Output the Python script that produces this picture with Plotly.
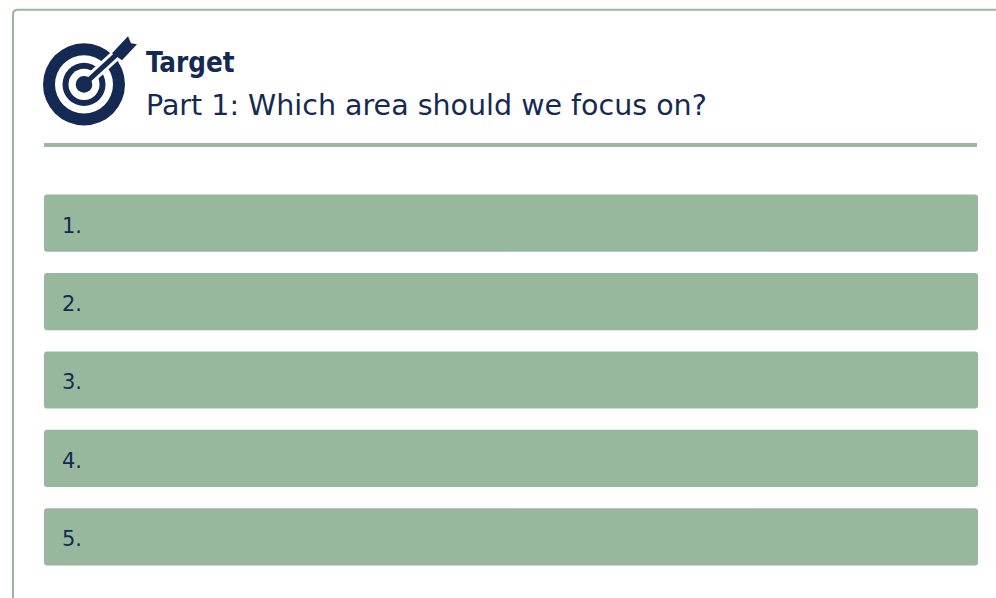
import math
import plotly.graph_objects as go

W, H = 996, 598
labels = ["1.", "2.", "3.", "4.", "5."]
left_half = [-0.5, -0.5, -0.5, -0.5, -0.5]
right_half = [0.5, 0.5, 0.5, 0.5, 0.5]
title = "Target"
subtitle = "Part 1: Which area should we focus on?"
GREEN = "#98b89e"
NAVY = "#152a52"
FONT = "DejaVu Sans"

L, R, T, B = 44, 18, 184.4, 22.4

def px(x):
    return (x - L) / (W - L - R)

def py(y):
    return 1 - (y - T) / (H - T - B)

def pt(x, y):
    return f"{px(x):.5f},{py(y):.5f}"

def circle(cx, cy, r, color):
    return dict(type="circle", xref="paper", yref="paper", x0=px(cx - r), x1=px(cx + r),
                y0=py(cy + r), y1=py(cy - r), fillcolor=color, line=dict(width=0), layer="above")

def poly(points, color):
    return dict(type="path", xref="paper", yref="paper",
                path="M " + " L ".join(pt(*p) for p in points) + " Z",
                fillcolor=color, line=dict(width=0), layer="above")

cx, cy = 84, 85
ux, uy = math.cos(math.radians(42.5)), -math.sin(math.radians(42.5))

def along(d, off=0):
    return (cx + ux * d - uy * off, cy + uy * d + ux * off)

shapes = [
    # card outline
    dict(type="path", xref="paper", yref="paper",
         path=f"M {pt(13, 604)} L {pt(13, 15)} Q {pt(13, 10.5)} {pt(18, 10.5)} L {pt(1002, 10.5)}",
         line=dict(color=GREEN, width=2), layer="below"),
    # header rule
    dict(type="rect", xref="paper", yref="paper", x0=px(44), x1=px(977), y0=py(147.5), y1=py(143.5),
         fillcolor=GREEN, line=dict(width=0), layer="below"),
    circle(cx, cy, 41, NAVY),
    circle(cx, cy, 29, "white"),
    circle(cx, cy, 21.5, NAVY),
    circle(cx, cy, 15.5, "white"),
    # white gap cut through the rings
    poly([along(9, -5.5), along(46, -5.5), along(46, 5.5), along(9, 5.5)], "white"),
    circle(cx, cy, 8.3, NAVY),
    # arrow shaft
    poly([along(3, -2.5), along(45, -2.5), along(45, 2.5), along(3, 2.5)], NAVY),
    # fletching
    poly([(112, 54), (128, 37), (131, 44), (137, 45), (122, 61)], NAVY),
]

bar_style = dict(orientation="h", width=0.73, hoverinfo="skip",
                 marker=dict(color=GREEN, cornerradius=3, line=dict(width=0)))
fig = go.Figure([
    go.Bar(x=left_half, y=labels, **bar_style),
    go.Bar(x=right_half, y=labels, **bar_style),
])
fig.update_layout(
    width=W, height=H, margin=dict(l=L, r=R, t=T, b=B, pad=0),
    paper_bgcolor="white", plot_bgcolor="white", showlegend=False, barmode="relative",
    font=dict(family=FONT, color=NAVY),
    shapes=shapes,
    annotations=[
        dict(text=f"<b>{title}</b>", xref="paper", yref="paper", x=px(144), y=py(63),
             xanchor="left", yanchor="middle", showarrow=False,
             font=dict(size=27.5, family="DejaVu Sans Condensed", color=NAVY)),
        dict(text=subtitle, xref="paper", yref="paper", x=px(144), y=py(106.5),
             xanchor="left", yanchor="middle", showarrow=False, font=dict(size=28.5, family=FONT, color=NAVY)),
    ],
    xaxis=dict(range=[-0.5, 0.5], visible=False, fixedrange=True),
    yaxis=dict(autorange=False, range=[4.5, -0.5], type="category", showgrid=False, zeroline=False,
               showline=False, ticks="", ticklabelposition="inside", ticklabelstandoff=15,
               ticklabelshift=-2, anchor="x", side="left",
               tickfont=dict(size=21, family=FONT, color=NAVY), fixedrange=True),
)
fig.write_html("out.html", config={"displayModeBar": False},
               post_script="document.body.style.margin='0';document.body.style.overflow='hidden';")
